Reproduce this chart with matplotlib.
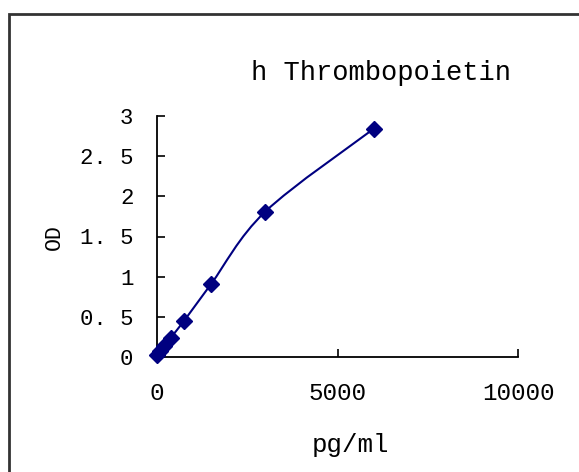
import matplotlib
matplotlib.use('Agg')
import matplotlib.pyplot as plt
import matplotlib.patches as mpatches
from matplotlib.path import Path
import numpy as np

# standard curve values
conc = [0, 93.75, 187.5, 375, 750, 1500, 3000, 6000]
od = [0.03, 0.08, 0.14, 0.24, 0.45, 0.91, 1.81, 2.84]
x_ticks = [0, 5000, 10000]
x_tick_labels = ['0', '5000', '10000']
y_ticks = [0, 0.5, 1, 1.5, 2, 2.5, 3]
y_tick_labels = ['0', '0. 5', '1', '1. 5', '2', '2. 5', '3']

navy = (0 / 255., 0 / 255., 128 / 255.)
mono = 'Liberation Mono'

f = plt.figure(figsize=(5.79, 4.72), dpi=100)
ax = f.add_axes([157 / 579., 1 - 357 / 472., (518 - 157) / 579., (357 - 116) / 472.])

# only bottom and left frame lines, ticks point inward
ax.spines["top"].set_visible(False)
ax.spines["right"].set_visible(False)
ax.spines["left"].set_linewidth(1.3)
ax.spines["bottom"].set_linewidth(1.3)

ax.set_xlim(0, 10000)
ax.set_ylim(0, 3)
ax.set_xticks(x_ticks)
ax.set_xticklabels(x_tick_labels, fontfamily=mono, fontsize=17.5)
ax.set_yticks(y_ticks)
ax.set_yticklabels(y_tick_labels, fontfamily=mono, fontsize=16)
ax.tick_params(direction='in', length=6, width=1.2)
ax.tick_params(axis='y', pad=17)
ax.tick_params(axis='x', pad=18)

# smoothed line (catmull-rom as bezier segments, like excel's smooth line)
pts = np.column_stack([conc, od])
verts = [pts[0]]
codes = [Path.MOVETO]
for i in range(len(pts) - 1):
    p0 = pts[max(i - 1, 0)]
    p1 = pts[i]
    p2 = pts[i + 1]
    p3 = pts[min(i + 2, len(pts) - 1)]
    c1 = p1 + (p2 - p0) / 6.
    c2 = p2 - (p3 - p1) / 6.
    verts += [c1, c2, p2]
    codes += [Path.CURVE4] * 3
ax.add_patch(mpatches.PathPatch(Path(verts, codes), fill=False, ec=navy, lw=1.5, clip_on=False))

ax.plot(conc, od, 'D', color=navy, ms=8.5, clip_on=False, zorder=5)

f.text(381 / 579., 1 - 73 / 472., 'h Thrombopoietin', ha='center', va='center',
       fontfamily=mono, fontsize=19.5)
f.text(350 / 579., 1 - 445 / 472., 'pg/ml', ha='center', va='center',
       fontfamily=mono, fontsize=18.5)
f.text(54 / 579., 1 - 237 / 472., 'OD', ha='center', va='center', rotation=90,
       fontfamily=mono, fontsize=15.5)

# outer chart border (runs off the right and bottom edge)
f.add_artist(mpatches.Rectangle((9 / 579., -0.1), 2, 1.1 - 14 / 472., transform=f.transFigure,
                                fill=False, lw=2, ec='#333333'))

f.savefig('out.png', dpi=100)
